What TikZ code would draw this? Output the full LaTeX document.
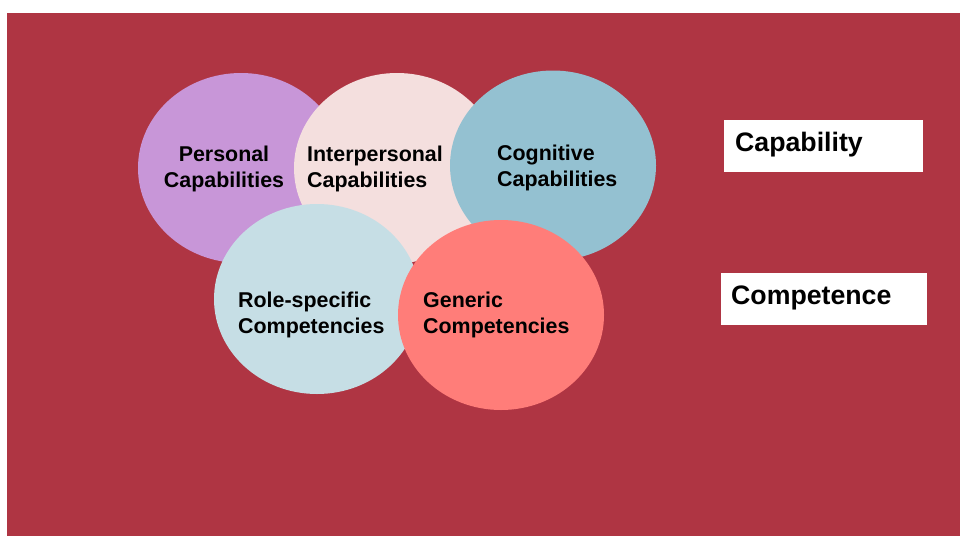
\documentclass[tikz,border=0pt]{standalone}
\usepackage{fontspec}
\setmainfont{Liberation Sans}
\usetikzlibrary{shapes.geometric}
\definecolor{bg}{HTML}{AF3543}
\definecolor{personalc}{HTML}{C896D8}
\definecolor{interc}{HTML}{F4DFDE}
\definecolor{cognc}{HTML}{94C1D1}
\definecolor{rolec}{HTML}{C6DEE5}
\definecolor{genc}{HTML}{FF7D79}
\begin{document}
\begin{tikzpicture}[x=1pt,y=-1pt,
  ell/.style={ellipse, inner sep=0pt, minimum width=206pt, minimum height=190pt, draw=none},
  lab/.style={font=\fontsize{21.4}{26}\selectfont\bfseries, inner sep=0pt, text=black},
  boxlab/.style={font=\fontsize{26.7}{32}\selectfont\bfseries, inner sep=0pt, text=black},
  whitebox/.style={fill=white, draw=none, inner sep=0pt, anchor=north west}]
\useasboundingbox (0,0) rectangle (960,536);
\fill[white] (0,0) rectangle (960,536);
\fill[bg] (7,13) rectangle (960,536);
% capability ellipses
\node[ell, fill=personalc] (personal) at (241,168) {};
\node[ell, fill=interc] (inter) at (397,168) {};
\node[ell, fill=cognc] (cogn) at (553,165.5) {};
% competence ellipses
\node[ell, fill=rolec] (role) at (317,299) {};
\node[ell, fill=genc] (gen) at (501,315) {};
% texts
\node[lab, align=center] (personaltxt) at (224,168.5) {Personal\\Capabilities};
\node[lab, align=left, anchor=west] (intertxt) at (307,168.5) {Interpersonal\\Capabilities};
\node[lab, align=left, anchor=west] (cogntxt) at (497,168) {Cognitive\\Capabilities};
\node[lab, align=left, anchor=west] (roletxt) at (238,314.5) {Role-specific\\Competencies};
\node[lab, align=left, anchor=west] (gentxt) at (423,314.5) {Generic\\Competencies};
% legend boxes
\node[whitebox, minimum width=199pt, minimum height=52pt] (capbox) at (724,120) {};
\node[boxlab, anchor=west] (captxt) at (735,144.5) {Capability};
\node[whitebox, minimum width=206pt, minimum height=52pt] (compbox) at (721,273) {};
\node[boxlab, anchor=west] (comptxt) at (731,297.5) {Competence};
\end{tikzpicture}
\end{document}
